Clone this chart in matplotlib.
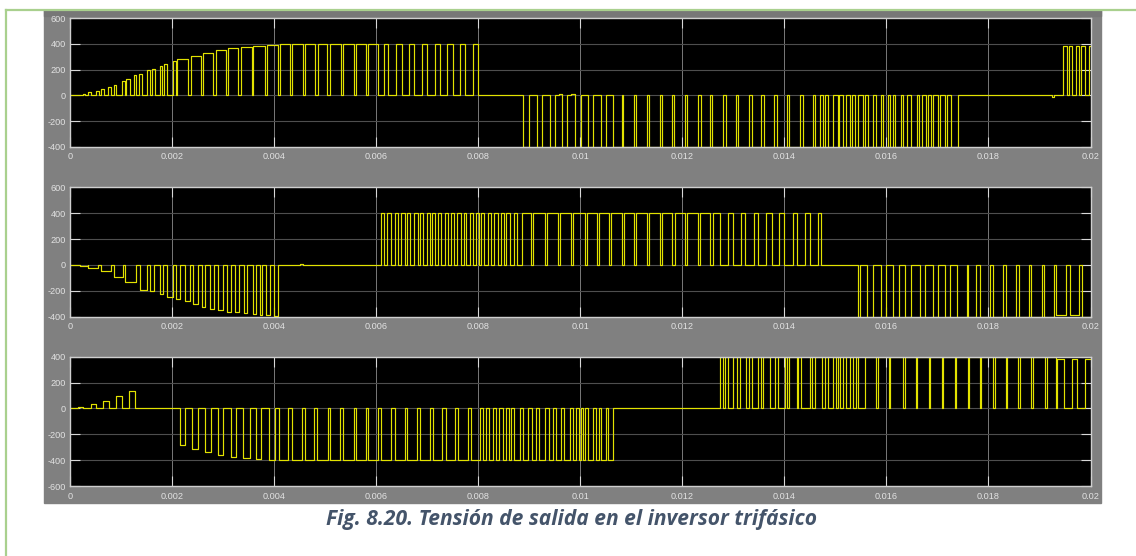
import matplotlib
matplotlib.use("Agg")
import matplotlib.pyplot as plt
from matplotlib.patches import Rectangle
from matplotlib.lines import Line2D

plt.rcParams['axes.unicode_minus'] = False

# pulses: (start ms, end ms, volts); 0 V in between
phase_a = [
    (0.255, 0.30, 12), (0.35, 0.42, 25), (0.50, 0.56, 36), (0.61, 0.66, 50),
    (0.75, 0.81, 65), (0.86, 0.91, 82), (1.01, 1.07, 108), (1.10, 1.17, 128),
    (1.25, 1.30, 155), (1.35, 1.41, 163), (1.50, 1.56, 194), (1.61, 1.66, 206),
    (1.76, 1.81, 227), (1.85, 1.91, 245), (2.01, 2.07, 266), (2.10, 2.31, 285),
    (2.37, 2.56, 310), (2.61, 2.80, 330), (2.86, 3.05, 350), (3.10, 3.29, 365),
    (3.35, 3.56, 375), (3.59, 3.82, 385), (3.86, 4.08, 395), (4.12, 4.31, 400),
    (4.35, 4.57, 400), (4.61, 4.81, 400), (4.86, 5.03, 400), (5.10, 5.31, 400),
    (5.36, 5.56, 400), (5.61, 5.80, 400), (5.85, 6.03, 400), (6.16, 6.24, 400),
    (6.39, 6.50, 400), (6.64, 6.75, 400), (6.90, 6.99, 400), (7.15, 7.25, 400),
    (7.39, 7.50, 400), (7.65, 7.75, 400), (7.90, 8.00, 400),
    (8.88, 8.99, -400), (9.16, 9.25, -400), (9.40, 9.51, -400), (9.58, 9.65, 10),
    (9.65, 9.75, -400), (9.82, 9.89, 10), (9.89, 10.01, -400), (10.16, 10.25, -400),
    (10.41, 10.50, -400), (10.65, 10.81, -400), (10.84, 11.06, -400),
    (11.10, 11.30, -400), (11.35, 11.56, -400), (11.61, 11.79, -400),
    (11.84, 12.05, -400), (12.10, 12.31, -400), (12.36, 12.54, -400),
    (12.59, 12.80, -400), (12.85, 13.05, -400), (13.10, 13.31, -400),
    (13.36, 13.55, -400), (13.60, 13.80, -400), (13.86, 14.05, -400),
    (14.10, 14.31, -400), (14.36, 14.56, -400), (14.61, 14.70, -400),
    (14.75, 14.80, -400), (14.85, 14.96, -400), (15.05, 15.08, -400),
    (15.15, 15.20, -400), (15.29, 15.33, -400), (15.38, 15.44, -400),
    (15.54, 15.59, -400), (15.64, 15.74, -400), (15.80, 15.90, -400),
    (15.93, 16.03, -400), (16.07, 16.13, -400), (16.16, 16.29, -400),
    (16.33, 16.41, -400), (16.49, 16.59, -400), (16.64, 16.69, -400),
    (16.77, 16.82, -400), (16.88, 16.92, -400), (17.01, 17.05, -400),
    (17.14, 17.18, -400), (17.27, 17.41, -400),
    (19.24, 19.29, -10), (19.47, 19.53, 385), (19.57, 19.63, 385),
    (19.72, 19.77, 385), (19.82, 19.89, 385), (19.98, 20.0, 385),
]

phase_b = [
    (0.19, 0.35, -8), (0.35, 0.55, -22), (0.61, 0.81, -50), (0.86, 1.04, -90),
    (1.08, 1.30, -130), (1.37, 1.50, -190), (1.56, 1.65, -205), (1.76, 1.82, -228),
    (1.91, 2.02, -245), (2.07, 2.15, -265), (2.25, 2.35, -280), (2.41, 2.51, -300),
    (2.58, 2.65, -325), (2.75, 2.82, -340), (2.90, 3.00, -350), (3.07, 3.16, -360),
    (3.23, 3.31, -365), (3.41, 3.47, -372), (3.59, 3.65, -380), (3.72, 3.77, -385),
    (3.85, 3.92, -390), (4.00, 4.07, -398),
    (4.50, 4.56, 4), (4.80, 4.90, -3), (5.35, 5.45, -3), (5.80, 5.85, -3),
    (6.10, 6.16, 400), (6.22, 6.29, 400), (6.36, 6.42, 400), (6.49, 6.56, 400),
    (6.60, 6.66, 400), (6.74, 6.82, 400), (6.86, 6.91, 400), (6.99, 7.06, 400),
    (7.09, 7.15, 400), (7.22, 7.28, 400), (7.34, 7.40, 400), (7.47, 7.52, 400),
    (7.58, 7.66, 400), (7.72, 7.77, 400), (7.84, 7.90, 400), (7.96, 8.02, 400),
    (8.06, 8.12, 400), (8.20, 8.25, 400), (8.30, 8.38, 400), (8.45, 8.50, 400),
    (8.55, 8.62, 400), (8.70, 8.76, 400), (8.86, 9.04, 400), (9.08, 9.30, 400),
    (9.35, 9.56, 400), (9.61, 9.82, 400), (9.86, 10.10, 400), (10.14, 10.32, 400),
    (10.37, 10.56, 400), (10.60, 10.81, 400), (10.86, 11.06, 400),
    (11.10, 11.30, 400), (11.35, 11.56, 400), (11.61, 11.80, 400),
    (11.86, 12.05, 400), (12.10, 12.30, 400), (12.35, 12.54, 400),
    (12.61, 12.74, 400), (12.90, 13.00, 400), (13.16, 13.23, 400),
    (13.41, 13.49, 400), (13.65, 13.75, 400), (13.90, 13.99, 400),
    (14.16, 14.24, 400), (14.41, 14.50, 400), (14.65, 14.71, 400),
    (15.44, 15.48, -400), (15.61, 15.74, -400), (15.90, 16.00, -400),
    (16.13, 16.24, -400), (16.36, 16.49, -400), (16.65, 16.75, -400),
    (16.92, 17.01, -400), (17.14, 17.24, -400), (17.39, 17.57, -400),
    (17.60, 17.76, -400), (17.83, 18.03, -400), (18.09, 18.29, -400),
    (18.35, 18.54, -400), (18.60, 18.79, -400), (18.84, 19.04, -400),
    (19.09, 19.29, -400), (19.33, 19.52, -390), (19.59, 19.78, -390),
    (19.84, 20.0, -400),
]

phase_c = [
    (0.16, 0.25, 13), (0.41, 0.51, 31), (0.65, 0.76, 59), (0.90, 1.01, 97),
    (1.16, 1.27, 138), (1.63, 1.68, 3), (1.90, 1.95, 3),
    (2.15, 2.26, -280), (2.39, 2.51, -310), (2.64, 2.76, -335), (2.90, 3.00, -360),
    (3.16, 3.26, -375), (3.39, 3.52, -385), (3.65, 3.75, -395), (3.90, 4.01, -400),
    (4.09, 4.27, -400), (4.35, 4.54, -400), (4.60, 4.78, -400), (4.85, 5.05, -400),
    (5.10, 5.29, -400), (5.36, 5.56, -400), (5.61, 5.80, -400), (5.85, 6.03, -400),
    (6.10, 6.29, -400), (6.36, 6.56, -400), (6.60, 6.80, -400), (6.85, 7.05, -400),
    (7.11, 7.29, -400), (7.36, 7.55, -400), (7.60, 7.80, -400), (7.86, 8.04, -400),
    (8.09, 8.16, -400), (8.22, 8.29, -400), (8.35, 8.41, -400), (8.48, 8.54, -400),
    (8.61, 8.65, -400), (8.71, 8.81, -400), (8.88, 8.97, -400), (9.06, 9.14, -400),
    (9.20, 9.30, -400), (9.39, 9.46, -400), (9.53, 9.63, -400), (9.69, 9.79, -400),
    (9.86, 9.92, -400), (9.97, 10.02, -400), (10.06, 10.10, -400),
    (10.16, 10.25, -400), (10.30, 10.37, -400), (10.41, 10.50, -400),
    (10.55, 10.65, -400),
    (12.74, 12.80, 400), (12.84, 12.90, 400), (13.00, 13.08, 400),
    (13.13, 13.24, 400), (13.31, 13.36, 400), (13.49, 13.54, 400),
    (13.59, 13.72, 400), (13.82, 13.87, 400), (14.01, 14.05, 400),
    (14.09, 14.24, 400), (14.27, 14.33, 400), (14.50, 14.54, 400),
    (14.60, 14.73, 400), (14.80, 14.85, 400), (14.96, 15.01, 400),
    (15.05, 15.10, 400), (15.15, 15.20, 400), (15.28, 15.35, 400),
    (15.40, 15.44, 400), (15.58, 15.80, 400), (15.84, 16.05, 400),
    (16.08, 16.33, 400), (16.36, 16.58, 400), (16.60, 16.84, 400),
    (16.86, 17.08, 400), (17.11, 17.34, 400), (17.37, 17.59, 400),
    (17.62, 17.83, 400), (17.86, 18.09, 400), (18.12, 18.34, 400),
    (18.37, 18.58, 400), (18.61, 18.84, 400), (18.88, 19.10, 400),
    (19.14, 19.32, 395), (19.35, 19.48, 385), (19.64, 19.74, 385),
    (19.89, 20.0, 385),
]

ylims = [(-400, 600), (-400, 600), (-600, 400)]
yticks = [[-400, -200, 0, 200, 400, 600],
          [-400, -200, 0, 200, 400, 600],
          [-600, -400, -200, 0, 200, 400]]
xticks = [0, 0.002, 0.004, 0.006, 0.008, 0.01, 0.012, 0.014, 0.016, 0.018, 0.02]
xlabels = ['0', '0.002', '0.004', '0.006', '0.008', '0.01', '0.012', '0.014',
           '0.016', '0.018', '0.02']
caption = 'Fig. 8.20. Tensión de salida en el inversor trifásico'


def to_steps(pulses):
    t, v = [0.0], [0.0]
    for s, e, lvl in pulses:
        t += [s / 1000, e / 1000]
        v += [lvl, 0.0]
    if t[-1] < 0.02:
        t.append(0.02)
        v.append(0.0)
    else:
        v[-1] = v[-2]
    return t, v


W, H = 1136, 556
fig = plt.figure(figsize=(W / 100, H / 100), dpi=100)
fig.patch.set_facecolor('white')

# scope window background and page border
fig.add_artist(Rectangle((44 / W, 1 - 503 / H), 1057 / W, 493 / H,
                         transform=fig.transFigure, color='#808080', zorder=0))
fig.add_artist(Rectangle((44 / W, 1 - 16 / H), 1057 / W, 6 / H,
                         transform=fig.transFigure, color='#777777', zorder=0))
fig.add_artist(Line2D([6 / W, 6 / W], [0, 1 - 9.5 / H], transform=fig.transFigure,
                      color='#a9d08e', lw=1.6))
fig.add_artist(Line2D([6 / W, 1], [1 - 9.5 / H, 1 - 9.5 / H], transform=fig.transFigure,
                      color='#a9d08e', lw=1.6))

tops = [18.3, 187.3, 356.7]
bottoms = [146.7, 316.7, 486.0]
left, right = 70, 1090.5

for i, pulses in enumerate([phase_a, phase_b, phase_c]):
    ax = fig.add_axes([left / W, 1 - bottoms[i] / H, (right - left) / W,
                       (bottoms[i] - tops[i]) / H])
    ax.set_facecolor('black')
    t, v = to_steps(pulses)
    ax.plot(t, v, drawstyle='steps-post', color='#e2e200', lw=0.85)
    ax.set_xlim(0, 0.02)
    ax.set_ylim(*ylims[i])
    ax.set_yticks(yticks[i])
    ax.set_yticklabels([str(y) for y in yticks[i]])
    ax.set_xticks(xticks)
    ax.set_xticklabels(xlabels)
    ax.xaxis.grid(True, color='#8c8c8c', lw=0.6)
    ax.yaxis.grid(True, color='#4e4e4e', lw=0.8)
    ax.set_axisbelow(True)
    ax.tick_params(direction='in', length=7, width=0.8, color='#d8d8d8',
                   top=True, right=True, labelsize=6.6, labelcolor='#e2e2e2')
    ax.tick_params(axis='y', pad=3)
    ax.tick_params(axis='x', pad=4)
    for lab in ax.get_xticklabels() + ax.get_yticklabels():
        lab.set_family('Liberation Sans')
    for sp in ax.spines.values():
        sp.set_color('#cfcfcf')
        sp.set_linewidth(1.0)

cap = fig.text(572 / W, 1 - 519 / H, caption, ha='center', va='center',
               fontsize=13, fontweight='bold', style='italic', color='#44546a',
               family='Open Sans')
# fit caption width to the reference (about 490 px)
r = fig.canvas.get_renderer()
w = cap.get_window_extent(renderer=r).width
cap.set_fontsize(13 * 490 / w)

fig.savefig('out.png', dpi=100)
